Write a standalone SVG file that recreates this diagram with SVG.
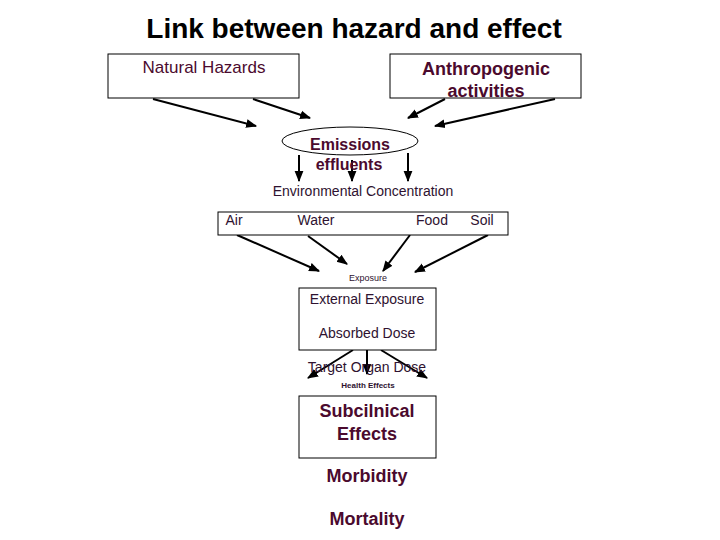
<svg xmlns="http://www.w3.org/2000/svg" width="720" height="540" viewBox="0 0 720 540">
<defs>
<marker id="ah" viewBox="0 0 10 10" refX="9" refY="5" markerWidth="5.5" markerHeight="5.5" orient="auto" markerUnits="strokeWidth">
<path d="M0,1 L10,5 L0,9 z" fill="#000"/>
</marker>
<style>
text{font-family:"Liberation Sans",Arial,sans-serif;text-anchor:middle}
.title{font-size:28px;font-weight:bold;fill:#000}
.mb{font-size:18px;font-weight:bold;fill:#4b0a2e}
.me{font-size:16px;font-weight:bold;fill:#4b0a2e}
.mr{font-size:17px;fill:#4b0a2e}
.rg{font-size:14px;fill:#2e1230}
.sm{font-size:9px;fill:#2e1230}
.sb{font-size:8px;font-weight:bold;fill:#2e1230}
.box{fill:#fff;stroke:#000;stroke-width:1}
.ar{stroke:#000;stroke-width:2;fill:none;marker-end:url(#ah)}
</style>
</defs>
<rect width="720" height="540" fill="#fff"/>
<text class="title" x="354" y="38">Link between hazard and effect</text>
<g id="natural">
<rect class="box" x="108" y="54" width="191" height="44"/>
<text class="mr" x="204" y="73">Natural Hazards</text>
</g>
<g id="anthropogenic">
<rect class="box" x="390" y="54" width="191" height="44"/>
<text class="mb" x="486" y="75">Anthropogenic</text>
<text class="mb" x="486" y="97">activities</text>
</g>
<g id="connectors">
<line class="ar" x1="153" y1="99" x2="256" y2="126"/>
<line class="ar" x1="253" y1="99" x2="310" y2="118"/>
<line class="ar" x1="445" y1="99" x2="408" y2="118"/>
<line class="ar" x1="555" y1="99" x2="435" y2="126"/>
<line class="ar" x1="299" y1="155" x2="299" y2="181"/>
<line class="ar" x1="352" y1="160" x2="352" y2="181"/>
<line class="ar" x1="408" y1="153" x2="408" y2="181"/>
<line class="ar" x1="237" y1="235" x2="319" y2="271"/>
<line class="ar" x1="308" y1="236" x2="347" y2="264"/>
<line class="ar" x1="410" y1="235" x2="383" y2="271"/>
<line class="ar" x1="488" y1="235" x2="415" y2="272"/>
<line class="ar" x1="353" y1="350" x2="308" y2="378"/>
<line class="ar" x1="367" y1="350" x2="367" y2="374"/>
<line class="ar" x1="381" y1="350" x2="427" y2="378"/>
</g>
<g id="emissions">
<ellipse cx="350" cy="141" rx="68" ry="14" fill="#fff" stroke="#000" stroke-width="1"/>
<text class="me" x="350" y="150">Emissions</text>
<text class="me" x="349" y="170">effluents</text>
</g>
<g id="environmental">
<text class="rg" x="363" y="196">Environmental Concentration</text>
<rect class="box" x="218" y="212" width="290" height="23"/>
<text class="rg" x="234" y="225">Air</text>
<text class="rg" x="316" y="225">Water</text>
<text class="rg" x="432" y="225">Food</text>
<text class="rg" x="482" y="225">Soil</text>
</g>
<g id="exposure">
<text class="sm" x="368" y="281">Exposure</text>
<rect class="box" x="299" y="288" width="137" height="62"/>
<text class="rg" x="367" y="304">External Exposure</text>
<text class="rg" x="367" y="338">Absorbed Dose</text>
</g>
<g id="target">
<text class="rg" x="367" y="372">Target Organ Dose</text>
</g>
<g id="health">
<text class="sb" x="368" y="388">Health Effects</text>
<rect class="box" x="299" y="396" width="137" height="62"/>
<text class="mb" x="367" y="417">Subcilnical</text>
<text class="mb" x="367" y="440">Effects</text>
</g>
<g id="morbidity">
<text class="mb" x="367" y="482">Morbidity</text>
</g>
<g id="mortality">
<text class="mb" x="367" y="525">Mortality</text>
</g>
</svg>
